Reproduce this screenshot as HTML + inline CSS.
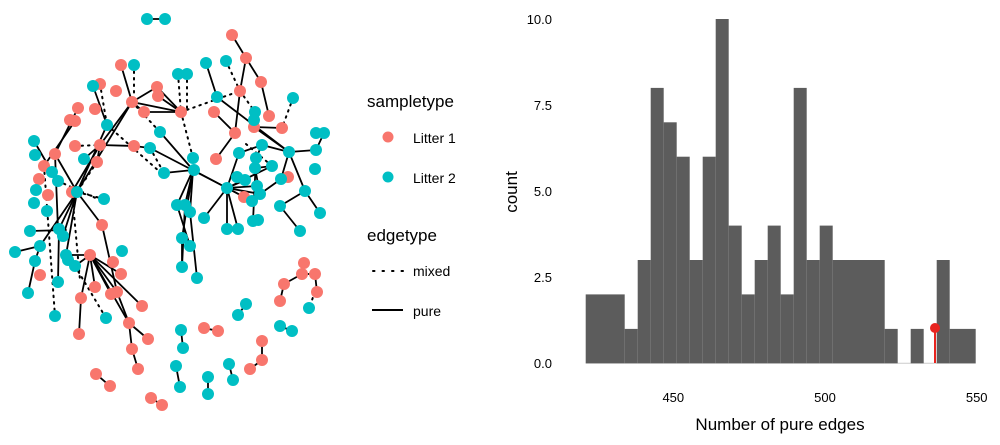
<!DOCTYPE html>
<html><head><meta charset="utf-8"><style>
html,body{margin:0;padding:0;background:#fff;}
svg{display:block;font-family:"Liberation Sans",Arial,sans-serif;}
</style></head><body>
<svg width="1000" height="445" viewBox="0 0 1000 445" xmlns="http://www.w3.org/2000/svg">
<g stroke="#000" stroke-width="1.8" stroke-linecap="round">
<line x1="147" y1="19" x2="165" y2="19"/>
<line x1="232" y1="35" x2="246" y2="58"/><line x1="246" y1="58" x2="261" y2="82"/><line x1="261" y1="82" x2="269" y2="116"/>
<line x1="246" y1="58" x2="240" y2="91"/><line x1="240" y1="91" x2="235" y2="133"/>
<line x1="206" y1="63" x2="217" y2="97"/><line x1="217" y1="97" x2="289" y2="152"/>
<line x1="214" y1="112" x2="235" y2="133"/><line x1="235" y1="133" x2="216" y2="159"/>
<line x1="254" y1="127" x2="282" y2="128"/><line x1="254" y1="127" x2="289" y2="152"/>
<line x1="121" y1="65" x2="132" y2="102"/><line x1="132" y1="102" x2="157" y2="87"/><line x1="157" y1="87" x2="181" y2="112"/>
<line x1="132" y1="102" x2="181" y2="112"/><line x1="158" y1="96" x2="181" y2="112"/><line x1="132" y1="102" x2="144" y2="112"/><line x1="144" y1="112" x2="181" y2="112"/>
<line x1="132" y1="102" x2="100" y2="145"/><line x1="100" y1="145" x2="134" y2="146"/><line x1="100" y1="145" x2="97" y2="162"/>
<line x1="93" y1="86" x2="107" y2="125"/><line x1="107" y1="125" x2="77" y2="192"/><line x1="132" y1="102" x2="77" y2="192"/>
<line x1="100" y1="145" x2="72" y2="192"/><line x1="100" y1="145" x2="84" y2="159"/><line x1="78" y1="108" x2="55" y2="154"/>
<line x1="75" y1="121" x2="44" y2="166"/><line x1="55" y1="154" x2="77" y2="192"/><line x1="34" y1="141" x2="52" y2="172"/>
<line x1="55" y1="154" x2="58" y2="229"/><line x1="77" y1="192" x2="59" y2="229"/><line x1="77" y1="192" x2="40" y2="246"/>
<line x1="77" y1="192" x2="63" y2="236"/><line x1="77" y1="192" x2="66" y2="255"/><line x1="77" y1="192" x2="102" y2="225"/>
<line x1="90" y1="255" x2="95" y2="287"/><line x1="90" y1="255" x2="111" y2="294"/><line x1="90" y1="255" x2="117" y2="292"/>
<line x1="90" y1="255" x2="142" y2="306"/><line x1="90" y1="255" x2="129" y2="323"/><line x1="90" y1="255" x2="121" y2="274"/>
<line x1="90" y1="255" x2="81" y2="298"/><line x1="90" y1="255" x2="66" y2="255"/><line x1="90" y1="255" x2="75" y2="266"/>
<line x1="102" y1="225" x2="117" y2="292"/><line x1="117" y1="292" x2="129" y2="323"/>
<line x1="129" y1="323" x2="132" y2="349"/><line x1="132" y1="349" x2="138" y2="369"/><line x1="129" y1="323" x2="148" y2="339"/>
<line x1="81" y1="298" x2="79" y2="334"/><line x1="40" y1="246" x2="15" y2="252"/><line x1="40" y1="246" x2="35" y2="261"/>
<line x1="35" y1="261" x2="28" y2="293"/><line x1="59" y1="229" x2="58" y2="282"/><line x1="30" y1="231" x2="66" y2="230"/>
<line x1="134" y1="146" x2="150" y2="148"/><line x1="150" y1="148" x2="227" y2="188"/><line x1="160" y1="132" x2="193" y2="170"/>
<line x1="193" y1="170" x2="227" y2="188"/><line x1="164" y1="173" x2="193" y2="170"/><line x1="193" y1="170" x2="177" y2="205"/>
<line x1="193" y1="170" x2="185" y2="205"/><line x1="193" y1="170" x2="190" y2="212"/><line x1="193" y1="170" x2="182" y2="238"/>
<line x1="182" y1="238" x2="182" y2="267"/><line x1="190" y1="212" x2="197" y2="278"/><line x1="204" y1="218" x2="227" y2="188"/>
<line x1="177" y1="205" x2="190" y2="246"/><line x1="185" y1="205" x2="182" y2="267"/>
<line x1="227" y1="188" x2="227" y2="229"/><line x1="227" y1="188" x2="238" y2="229"/><line x1="227" y1="188" x2="244" y2="197"/>
<line x1="227" y1="188" x2="252" y2="201"/><line x1="227" y1="188" x2="257" y2="186"/><line x1="227" y1="188" x2="245" y2="180"/>
<line x1="227" y1="188" x2="239" y2="153"/><line x1="227" y1="188" x2="260" y2="194"/><line x1="227" y1="188" x2="272" y2="166"/>
<line x1="256" y1="158" x2="253" y2="221"/><line x1="262" y1="145" x2="289" y2="152"/><line x1="289" y1="152" x2="316" y2="150"/>
<line x1="289" y1="152" x2="305" y2="191"/><line x1="289" y1="152" x2="281" y2="179"/><line x1="305" y1="191" x2="280" y2="206"/>
<line x1="305" y1="191" x2="320" y2="213"/><line x1="280" y1="206" x2="300" y2="231"/><line x1="324" y1="133" x2="316" y2="150"/>
<line x1="260" y1="194" x2="281" y2="179"/><line x1="256" y1="158" x2="262" y2="145"/><line x1="239" y1="153" x2="262" y2="145"/>
<line x1="256" y1="168" x2="272" y2="166"/><line x1="255" y1="168" x2="260" y2="194"/>
<line x1="302" y1="274" x2="315" y2="274"/><line x1="304" y1="263" x2="302" y2="274"/><line x1="315" y1="274" x2="317" y2="292"/>
<line x1="302" y1="274" x2="284" y2="284"/><line x1="284" y1="284" x2="280" y2="301"/><line x1="246" y1="304" x2="238" y2="315"/>
<line x1="204" y1="328" x2="218" y2="331"/><line x1="181" y1="330" x2="183" y2="348"/><line x1="280" y1="326" x2="292" y2="331"/>
<line x1="262" y1="341" x2="262" y2="360"/><line x1="262" y1="360" x2="250" y2="369"/><line x1="229" y1="364" x2="233" y2="380"/>
<line x1="176" y1="366" x2="180" y2="387"/><line x1="208" y1="377" x2="208" y2="394"/><line x1="96" y1="374" x2="110" y2="386"/>
<line x1="151" y1="398" x2="162" y2="405"/>
</g>
<g stroke="#000" stroke-width="2" stroke-dasharray="1.5 5" stroke-linecap="round" fill="none">
<line x1="134" y1="65" x2="134" y2="102"/><line x1="178" y1="74" x2="181" y2="112"/><line x1="187" y1="74" x2="187" y2="112"/>
<line x1="181" y1="112" x2="193" y2="158"/><line x1="181" y1="112" x2="240" y2="91"/><line x1="226" y1="61" x2="240" y2="91"/>
<line x1="100" y1="84" x2="107" y2="125"/><line x1="293" y1="98" x2="282" y2="128"/><line x1="75" y1="146" x2="100" y2="145"/>
<line x1="97" y1="162" x2="77" y2="192"/><line x1="104" y1="199" x2="77" y2="192"/><line x1="150" y1="148" x2="164" y2="173"/>
<line x1="315" y1="292" x2="309" y2="308"/><line x1="107" y1="125" x2="160" y2="172"/><line x1="44" y1="166" x2="55" y2="316"/>
<line x1="75" y1="266" x2="106" y2="318"/><line x1="72" y1="192" x2="80" y2="280"/><line x1="240" y1="91" x2="255" y2="112"/>
<line x1="246" y1="144" x2="272" y2="166"/><line x1="132" y1="102" x2="160" y2="132"/><line x1="58" y1="181" x2="100" y2="200"/>
</g>
<g fill="#F8766D">
<circle cx="232" cy="35" r="6"/><circle cx="246" cy="58" r="6"/><circle cx="261" cy="82" r="6"/><circle cx="269" cy="116" r="6"/>
<circle cx="240" cy="91" r="6"/><circle cx="282" cy="128" r="6"/><circle cx="254" cy="127" r="6"/><circle cx="235" cy="133" r="6"/>
<circle cx="214" cy="112" r="6"/><circle cx="121" cy="65" r="6"/><circle cx="100" cy="84" r="6"/><circle cx="116" cy="91" r="6"/>
<circle cx="132" cy="102" r="6"/><circle cx="157" cy="87" r="6"/><circle cx="158" cy="96" r="6"/><circle cx="144" cy="112" r="6"/>
<circle cx="181" cy="112" r="6"/><circle cx="78" cy="108" r="6"/><circle cx="95" cy="109" r="6"/><circle cx="70" cy="120" r="6"/>
<circle cx="75" cy="121" r="6"/><circle cx="100" cy="145" r="6"/><circle cx="134" cy="146" r="6"/><circle cx="75" cy="146" r="6"/>
<circle cx="55" cy="154" r="6"/><circle cx="97" cy="162" r="6"/><circle cx="44" cy="166" r="6"/><circle cx="39" cy="179" r="6"/>
<circle cx="48" cy="195" r="6"/><circle cx="72" cy="192" r="6"/><circle cx="40" cy="275" r="6"/><circle cx="90" cy="255" r="6"/>
<circle cx="102" cy="225" r="6"/><circle cx="113" cy="262" r="6"/><circle cx="121" cy="274" r="6"/><circle cx="95" cy="287" r="6"/>
<circle cx="111" cy="294" r="6"/><circle cx="117" cy="292" r="6"/><circle cx="81" cy="298" r="6"/><circle cx="142" cy="306" r="6"/>
<circle cx="79" cy="334" r="6"/><circle cx="129" cy="323" r="6"/><circle cx="148" cy="339" r="6"/><circle cx="132" cy="349" r="6"/>
<circle cx="138" cy="369" r="6"/><circle cx="96" cy="374" r="6"/><circle cx="110" cy="386" r="6"/><circle cx="151" cy="398" r="6"/>
<circle cx="162" cy="405" r="6"/><circle cx="288" cy="177" r="6"/><circle cx="244" cy="197" r="6"/><circle cx="216" cy="159" r="6"/>
<circle cx="304" cy="263" r="6"/><circle cx="302" cy="274" r="6"/><circle cx="315" cy="274" r="6"/><circle cx="317" cy="292" r="6"/>
<circle cx="284" cy="284" r="6"/><circle cx="280" cy="301" r="6"/><circle cx="204" cy="328" r="6"/><circle cx="218" cy="331" r="6"/>
<circle cx="262" cy="341" r="6"/><circle cx="262" cy="360" r="6"/><circle cx="250" cy="369" r="6"/>
</g>
<g fill="#00BFC4">
<circle cx="147" cy="19" r="6"/><circle cx="165" cy="19" r="6"/><circle cx="206" cy="63" r="6"/><circle cx="226" cy="61" r="6"/>
<circle cx="217" cy="97" r="6"/><circle cx="293" cy="98" r="6"/><circle cx="255" cy="112" r="6"/><circle cx="254" cy="120" r="6"/>
<circle cx="178" cy="74" r="6"/><circle cx="187" cy="74" r="6"/><circle cx="134" cy="65" r="6"/><circle cx="93" cy="86" r="6"/>
<circle cx="107" cy="125" r="6"/><circle cx="160" cy="132" r="6"/><circle cx="34" cy="141" r="6"/><circle cx="35" cy="155" r="6"/>
<circle cx="84" cy="159" r="6"/><circle cx="52" cy="172" r="6"/><circle cx="58" cy="181" r="6"/><circle cx="36" cy="190" r="6"/>
<circle cx="77" cy="192" r="6"/><circle cx="34" cy="203" r="6"/><circle cx="104" cy="199" r="6"/><circle cx="47" cy="211" r="6"/>
<circle cx="59" cy="229" r="6"/><circle cx="63" cy="236" r="6"/><circle cx="30" cy="231" r="6"/><circle cx="40" cy="246" r="6"/>
<circle cx="15" cy="252" r="6"/><circle cx="35" cy="261" r="6"/><circle cx="58" cy="282" r="6"/><circle cx="28" cy="293" r="6"/>
<circle cx="66" cy="255" r="6"/><circle cx="68" cy="260" r="6"/><circle cx="75" cy="266" r="6"/><circle cx="122" cy="251" r="6"/>
<circle cx="106" cy="318" r="6"/><circle cx="55" cy="316" r="6"/><circle cx="150" cy="148" r="6"/><circle cx="193" cy="158" r="6"/>
<circle cx="194" cy="170" r="6"/><circle cx="164" cy="173" r="6"/><circle cx="177" cy="205" r="6"/><circle cx="185" cy="205" r="6"/>
<circle cx="190" cy="212" r="6"/><circle cx="204" cy="218" r="6"/><circle cx="182" cy="238" r="6"/><circle cx="190" cy="246" r="6"/>
<circle cx="182" cy="267" r="6"/><circle cx="197" cy="278" r="6"/><circle cx="227" cy="188" r="6"/><circle cx="237" cy="177" r="6"/>
<circle cx="239" cy="153" r="6"/><circle cx="262" cy="145" r="6"/><circle cx="256" cy="158" r="6"/><circle cx="255" cy="168" r="6"/>
<circle cx="272" cy="166" r="6"/><circle cx="289" cy="152" r="6"/><circle cx="316" cy="133" r="6"/><circle cx="324" cy="133" r="6"/>
<circle cx="316" cy="150" r="6"/><circle cx="315" cy="169" r="6"/><circle cx="305" cy="191" r="6"/><circle cx="280" cy="206" r="6"/>
<circle cx="252" cy="201" r="6"/><circle cx="245" cy="180" r="6"/><circle cx="257" cy="186" r="6"/><circle cx="260" cy="194" r="6"/>
<circle cx="253" cy="221" r="6"/><circle cx="227" cy="229" r="6"/><circle cx="238" cy="229" r="6"/><circle cx="258" cy="220" r="6"/>
<circle cx="300" cy="231" r="6"/><circle cx="320" cy="213" r="6"/><circle cx="281" cy="179" r="6"/><circle cx="309" cy="308" r="6"/>
<circle cx="246" cy="304" r="6"/><circle cx="238" cy="315" r="6"/><circle cx="181" cy="330" r="6"/><circle cx="183" cy="348" r="6"/>
<circle cx="280" cy="326" r="6"/><circle cx="292" cy="331" r="6"/><circle cx="229" cy="364" r="6"/><circle cx="233" cy="380" r="6"/>
<circle cx="176" cy="366" r="6"/><circle cx="180" cy="387" r="6"/><circle cx="208" cy="377" r="6"/><circle cx="208" cy="394" r="6"/>
</g>
<g font-size="17" fill="#000">
<text x="367" y="107">sampletype</text>
<circle cx="388" cy="137" r="5.5" fill="#F8766D"/><text x="413" y="143" font-size="14">Litter 1</text>
<circle cx="388" cy="177" r="5.5" fill="#00BFC4"/><text x="413" y="183" font-size="14">Litter 2</text>
<text x="367" y="241">edgetype</text>
<line x1="373" y1="271" x2="404" y2="271" stroke="#000" stroke-width="2" stroke-dasharray="1.5 8" stroke-linecap="round"/>
<text x="413" y="276" font-size="14">mixed</text>
<line x1="372" y1="310" x2="403" y2="310" stroke="#000" stroke-width="2"/>
<text x="413" y="316" font-size="14">pure</text>
</g>
<line x1="585.7" y1="363.3" x2="975.7" y2="363.3" stroke="#ccc" stroke-width="1"/>
<g fill="#5c5c5c">
<rect x="585.7" y="294.4" width="39" height="68.9"/>
<rect x="624.7" y="328.9" width="13" height="34.4"/>
<rect x="637.7" y="260" width="13" height="103.3"/>
<rect x="650.7" y="87.9" width="13" height="275.4"/>
<rect x="663.7" y="122.3" width="13" height="241"/>
<rect x="676.7" y="156.7" width="13" height="206.6"/>
<rect x="689.7" y="260" width="13" height="103.3"/>
<rect x="702.7" y="156.7" width="13" height="206.6"/>
<rect x="715.7" y="19" width="13" height="344.3"/>
<rect x="728.7" y="225.6" width="13" height="137.7"/>
<rect x="741.7" y="294.4" width="13" height="68.9"/>
<rect x="754.7" y="260" width="13" height="103.3"/>
<rect x="767.7" y="225.6" width="13" height="137.7"/>
<rect x="780.7" y="294.4" width="13" height="68.9"/>
<rect x="793.7" y="87.9" width="13" height="275.4"/>
<rect x="806.7" y="260" width="13" height="103.3"/>
<rect x="819.7" y="225.6" width="13" height="137.7"/>
<rect x="832.7" y="260" width="52" height="103.3"/>
<rect x="884.7" y="328.9" width="13" height="34.4"/>
<rect x="910.7" y="328.9" width="13" height="34.4"/>
<rect x="936.7" y="260" width="13" height="103.3"/>
<rect x="949.7" y="328.9" width="26" height="34.4"/>
</g>
<line x1="935" y1="328" x2="935" y2="363" stroke="#E8241F" stroke-width="2"/>
<circle cx="935" cy="328" r="5" fill="#E8241F"/>
<g font-size="13" fill="#000" text-anchor="end">
<text x="552" y="24">10.0</text><text x="552" y="110">7.5</text><text x="552" y="196">5.0</text>
<text x="552" y="282">2.5</text><text x="552" y="368">0.0</text>
</g>
<g font-size="13" fill="#000" text-anchor="middle">
<text x="673.3" y="402">450</text><text x="825" y="402">500</text><text x="976.7" y="402">550</text>
</g>
<text x="780" y="430" font-size="17" text-anchor="middle">Number of pure edges</text>
<text transform="translate(517,192) rotate(-90)" font-size="17" text-anchor="middle">count</text>
</svg>
</body></html>
